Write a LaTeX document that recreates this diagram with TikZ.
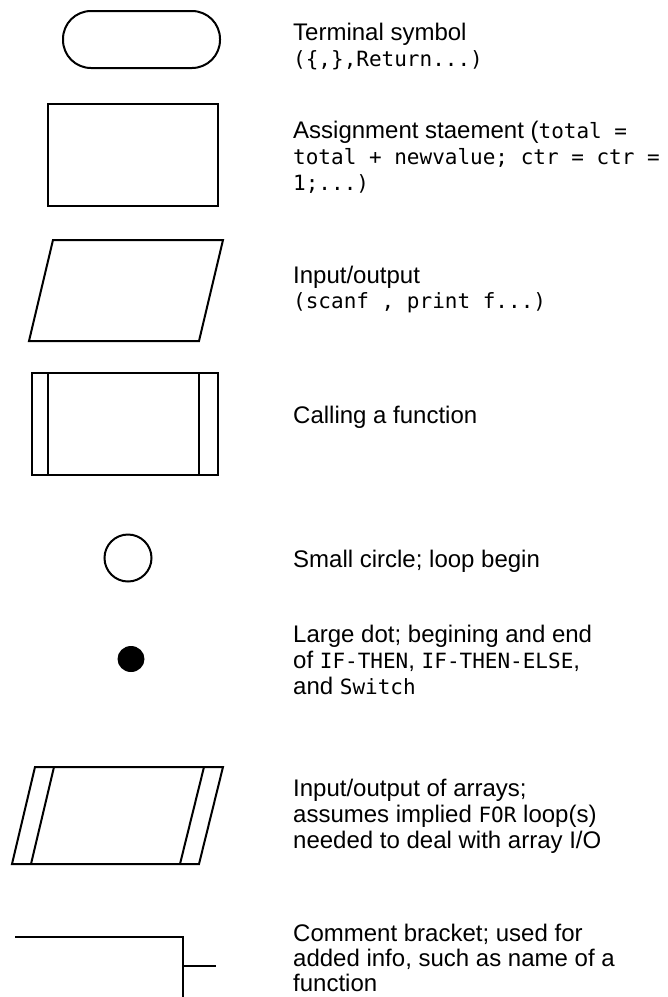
\documentclass[tikz,border=0pt]{standalone}
\usepackage{fontspec}
\setmainfont{Liberation Sans}
\newfontfamily\codefont{DejaVu Sans Mono}
\newcommand\cd[1]{{\codefont\fontsize{21}{25}\selectfont #1}}
\begin{document}
\begin{tikzpicture}[x=1pt,y=-1pt,
  symline/.style={draw=black,line width=2pt,line join=miter},
  lbl/.style={anchor=base west,inner sep=0pt,font=\fontsize{24}{26}\selectfont}]
\useasboundingbox (0,0) rectangle (668,997);
% terminal
\draw[symline,rounded corners=28pt] (63,11) rectangle (220,68);
\node[lbl] (t1a) at (293,40) {Terminal symbol};
\node[lbl] (t1b) at (293,66) {\cd{(\{,\},Return...)}};
% assignment
\draw[symline] (48,104) rectangle (218,206);
\node[lbl] (t2a) at (293,138) {Assignment staement (\cd{total =}};
\node[lbl] (t2b) at (293,164) {\cd{total + newvalue; ctr = ctr =}};
\node[lbl] (t2c) at (293,190) {\cd{1;...)}};
% input/output
\draw[symline] (53,240) -- (223,240) -- (199,341) -- (29,341) -- cycle;
\node[lbl] (t3a) at (293,283) {Input/output};
\node[lbl] (t3b) at (293,308) {\cd{(scanf , print f...)}};
% calling a function
\draw[symline] (32,373) rectangle (218,475);
\draw[symline] (48,373) -- (48,475);
\draw[symline] (199,373) -- (199,475);
\node[lbl] (t4) at (293,423) {Calling a function};
% small circle
\draw[symline] (128,558) circle[radius=23.5pt];
\node[lbl] (t5) at (293,567) {Small circle; loop begin};
% large dot
\fill[black] (131,659) ellipse[x radius=13.5pt,y radius=13pt];
\node[lbl] (t6a) at (293,642) {Large dot; begining and end};
\node[lbl] (t6b) at (293,668) {of \cd{IF-THEN}, \cd{IF-THEN-ELSE},};
\node[lbl] (t6c) at (293,694) {and \cd{Switch}};
% array I/O
\draw[symline] (35,767) -- (223,767) -- (199,864) -- (12,864) -- cycle;
\draw[symline] (54,767) -- (31,864);
\draw[symline] (204,767) -- (180,864);
\node[lbl] (t7a) at (293,796) {Input/output of arrays;};
\node[lbl] (t7b) at (293,822) {assumes implied \cd{FOR} loop(s)};
\node[lbl] (t7c) at (293,848) {needed to deal with array I/O};
% comment bracket
\draw[symline] (15,937) -- (183,937) -- (183,1000);
\draw[symline] (183,966) -- (216,966);
\node[lbl] (t8a) at (293,941) {Comment bracket; used for};
\node[lbl] (t8b) at (293,966) {added info, such as name of a};
\node[lbl] (t8c) at (293,991) {function};
\end{tikzpicture}
\end{document}
